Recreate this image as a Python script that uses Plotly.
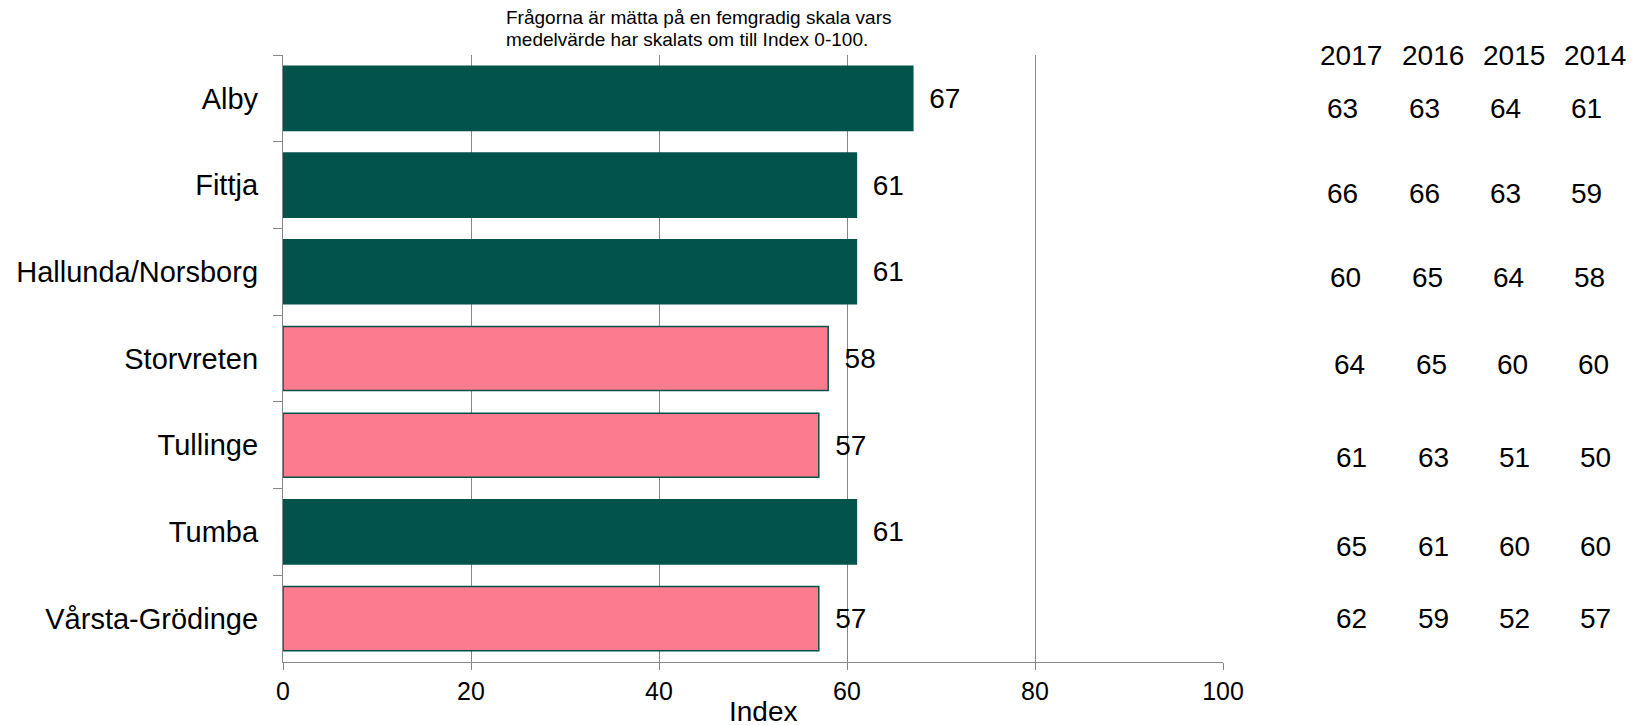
import plotly.graph_objects as go

# ---- data ----
categories = ["Alby", "Fittja", "Hallunda/Norsborg", "Storvreten", "Tullinge", "Tumba", "Vårsta-Grödinge"]
index_2018 = [67, 61, 61, 58, 57, 61, 57]
bar_colors = ["#03534D", "#03534D", "#03534D", "#FC7B8F", "#FC7B8F", "#03534D", "#FC7B8F"]
years = ["2017", "2016", "2015", "2014"]
v2017 = [63, 66, 60, 64, 61, 65, 62]
v2016 = [63, 66, 65, 65, 63, 61, 59]
v2015 = [64, 63, 64, 60, 51, 60, 52]
v2014 = [61, 59, 58, 60, 50, 60, 57]
subtitle_lines = ["Frågorna är mätta på en femgradig skala vars",
                  "medelvärde har skalats om till Index 0-100."]

W, H = 1645, 725
OFF = 8  # page body margin
ML, MR, MT, MB = 275, 430, 47, 71
FONT = "Liberation Sans, Arial, sans-serif"

fig = go.Figure()
fig.add_trace(go.Bar(
    y=categories, x=index_2018, orientation="h",
    marker=dict(color=bar_colors, line=dict(color="#03534D", width=1.5)),
    text=["\u00a0\u2009" + str(v) for v in index_2018], textposition="outside",
    textfont=dict(size=28, color="black", family=FONT),
    cliponaxis=False, width=0.74,
))

pw = W - ML - MR
ph = H - MT - MB
def px2paper(px):
    return (px - OFF - ML) / pw
def py2paper(py):
    return 1 - (py - OFF - MT) / ph

# table layout (pixel positions)
col_px = [1351, 1433, 1514, 1595]
row_xshift = [-9, -9, -6, -2, 0, 0, 0]
row_yshift = [-10, -8, -6, -6, -12, -15, 0]
ann = []
for j, yr in enumerate(years):
    ann.append(dict(text=yr, xref="paper", yref="paper", x=px2paper(col_px[j]), y=1.0,
                    xanchor="center", yanchor="middle", showarrow=False,
                    font=dict(size=28, color="black", family=FONT)))
cols = [v2017, v2016, v2015, v2014]
for j, col in enumerate(cols):
    for i, v in enumerate(col):
        ann.append(dict(text=str(v), xref="paper", yref="y", x=px2paper(col_px[j]), y=categories[i],
                        xshift=row_xshift[i], yshift=row_yshift[i],
                        xanchor="center", yanchor="middle", showarrow=False,
                        font=dict(size=28, color="black", family=FONT)))
for k, (line, py) in enumerate(zip(subtitle_lines, [18, 40])):
    ann.append(dict(text=line, xref="paper", yref="paper", x=px2paper(504), y=py2paper(py),
                    xanchor="left", yanchor="middle", showarrow=False,
                    font=dict(size=19, color="black", family=FONT)))
ann.append(dict(text="Index", xref="paper", yref="paper", x=px2paper(763), y=py2paper(711),
                xanchor="center", yanchor="middle", showarrow=False,
                font=dict(size=28, color="black", family=FONT)))

fig.update_layout(
    width=W, height=H,
    margin=dict(l=ML, r=MR, t=MT, b=MB, autoexpand=False),
    plot_bgcolor="white", paper_bgcolor="white",
    showlegend=False,
    font=dict(family=FONT, color="black"),
    annotations=ann,
    xaxis=dict(range=[0, 100], dtick=20, showgrid=True, gridcolor="#878787", gridwidth=1.3,
               showline=True, linecolor="#878787", linewidth=1.3, ticks="outside", ticklen=7,
               tickcolor="#878787", tickfont=dict(size=25, family=FONT, color="black"),
               zeroline=False, automargin=False),
    yaxis=dict(autorange="reversed", showline=True, linecolor="#878787", linewidth=1.3,
               ticks="outside", ticklen=9, tickcolor="#878787", tickson="boundaries",
               tickfont=dict(size=29, family=FONT, color="black"), ticklabelstandoff=18,
               automargin=False),
)

fig.write_html("out.html")
